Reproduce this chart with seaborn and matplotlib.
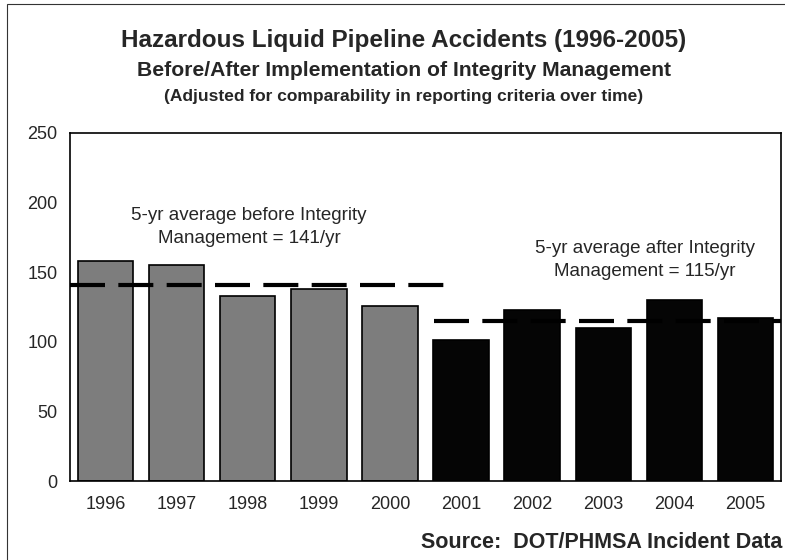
import matplotlib
matplotlib.use("Agg")
import matplotlib.pyplot as plt
import seaborn as sns
import pandas as pd
from matplotlib.patches import Rectangle

years = ["1996", "1997", "1998", "1999", "2000", "2001", "2002", "2003", "2004", "2005"]
accidents = [158, 155, 133, 138, 126, 101, 123, 110, 130, 117]
period = ["Before", "Before", "Before", "Before", "Before", "After", "After", "After", "After", "After"]
avg_before = 141
avg_after = 115
y_ticks = [0, 50, 100, 150, 200, 250]

df = pd.DataFrame({"year": years, "accidents": accidents, "period": period})

sns.set_theme(style="white")
plt.rcParams["font.family"] = ["Liberation Sans", "DejaVu Sans"]

fig = plt.figure(figsize=(7.85, 5.6), dpi=100)
ax = fig.add_axes([70 / 785, 1 - 481 / 560, 711 / 785, 348 / 560])

sns.barplot(data=df, x="year", y="accidents", hue="period", order=years,
            palette={"Before": "#7d7d7d", "After": "#050505"}, dodge=False,
            width=0.78, edgecolor="black", linewidth=1.2, legend=False,
            saturation=1, ax=ax)

dash = (0, (8.4, 3.2))
ax.plot([-0.5, 4.85], [avg_before, avg_before], color="black", lw=3,
        linestyle=dash, zorder=5, solid_capstyle="butt", dash_capstyle="butt")
ax.plot([4.62, 9.5], [avg_after, avg_after], color="black", lw=3,
        linestyle=dash, zorder=5, solid_capstyle="butt", dash_capstyle="butt")

ax.set_xlim(-0.5, 9.5)
ax.set_ylim(0, 250)
ax.set_yticks(y_ticks)
ax.set_yticklabels([str(t) for t in y_ticks], fontsize=13)
ax.set_xticks(range(len(years)))
ax.set_xticklabels(years, fontsize=13)
ax.set_xticks([i - 0.5 for i in range(len(years) + 1)], minor=True)
ax.tick_params(axis="x", which="major", length=0, pad=11)
ax.tick_params(axis="x", which="minor", length=4, width=1, color="black", direction="out")
ax.tick_params(axis="y", which="major", length=5, width=1, color="black", direction="out", pad=4)
ax.set_xlabel("")
ax.set_ylabel("")
for s in ax.spines.values():
    s.set_visible(True)
    s.set_color("black")
    s.set_linewidth(1.2)

ax.text(2.02, 182.5, "5-yr average before Integrity\nManagement = 141/yr", ha="center",
        va="center", fontsize=13.5, linespacing=1.4)
ax.text(7.59, 158.8, "5-yr average after Integrity\nManagement = 115/yr", ha="center",
        va="center", fontsize=13.5, linespacing=1.4)

fig.text(404 / 785, 1 - 40 / 560, "Hazardous Liquid Pipeline Accidents (1996-2005)",
         ha="center", va="center", fontsize=17.5, fontweight="bold")
fig.text(404 / 785, 1 - 71 / 560, "Before/After Implementation of Integrity Management",
         ha="center", va="center", fontsize=15.2, fontweight="bold")
fig.text(404 / 785, 1 - 97 / 560, "(Adjusted for comparability in reporting criteria over time)",
         ha="center", va="center", fontsize=12.5, fontweight="bold")
fig.text(782 / 785, 1 - 543 / 560, "Source:  DOT/PHMSA Incident Data",
         ha="right", va="center", fontsize=15.5, fontweight="bold")

fig.patches.append(Rectangle((7 / 785, -0.02), 1.0, 1 - 4 / 560 + 0.02,
                             transform=fig.transFigure, fill=False,
                             edgecolor="#333333", linewidth=0.8, zorder=0))

fig.savefig("out.png", dpi=100)
